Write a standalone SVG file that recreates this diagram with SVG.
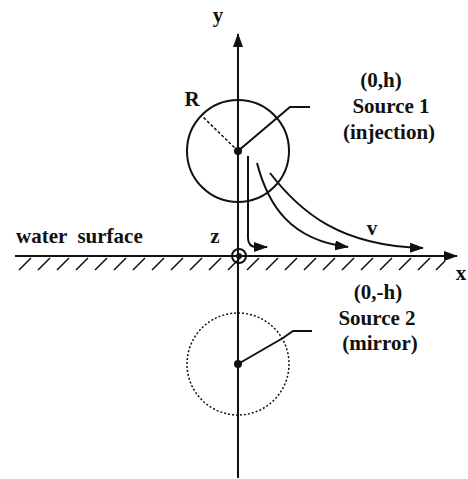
<svg xmlns="http://www.w3.org/2000/svg" width="468" height="479" viewBox="0 0 468 479">
<defs>
<style>
.t{font-family:"Liberation Serif","Times New Roman",serif;font-weight:bold;font-size:21px;fill:#111}
.ln{stroke:#111;stroke-width:2;fill:none}
.thin{stroke:#111;stroke-width:1.5;fill:none}
</style>
<marker id="ah" viewBox="0 0 14 10" refX="13" refY="5" markerWidth="14" markerHeight="10" markerUnits="userSpaceOnUse" orient="auto"><path d="M0,0 L14,5 L0,10 Z" fill="#111"/></marker>
</defs>
<rect width="468" height="479" fill="#fff"/>
<g id="connectors">
<line class="ln" x1="238" y1="478" x2="238" y2="34" marker-end="url(#ah)"/>
<line class="ln" x1="15" y1="256" x2="457" y2="256" marker-end="url(#ah)"/>
<path class="thin" d="M19,270 L31,258 M38,270 L50,258 M57,270 L69,258 M76,270 L88,258 M95,270 L107,258 M114,270 L126,258 M133,270 L145,258 M152,270 L164,258 M171,270 L183,258 M190,270 L202,258 M209,270 L221,258 M228,270 L240,258 M247,270 L259,258 M266,270 L278,258 M285,270 L297,258 M304,270 L316,258 M323,270 L335,258 M342,270 L354,258 M361,270 L373,258 M380,270 L392,258 M399,270 L411,258 M418,270 L430,258 M436,270 L445,261"/>
<path class="ln" d="M248,156 L248,238 Q248,247 257,247 L267,247" marker-end="url(#ah)"/>
<path class="ln" d="M257,163 C268,205 290,240 348,247" marker-end="url(#ah)"/>
<path class="ln" d="M270,173 C300,212 340,246 423,248" marker-end="url(#ah)"/>
</g>
<g id="source1">
<circle class="ln" cx="238" cy="151" r="51"/>
<circle cx="238" cy="151" r="4" fill="#111"/>
<line x1="238" y1="151" x2="202" y2="116" stroke="#111" stroke-width="1.5" stroke-dasharray="3,2"/>
<polyline class="ln" points="238,151 290,107 310,107"/>
<text class="t" x="192" y="106" text-anchor="middle">R</text>
<text class="t" x="381" y="87" text-anchor="middle">(0,h)</text>
<text class="t" x="391" y="113" text-anchor="middle">Source 1</text>
<text class="t" x="389" y="139" text-anchor="middle">(injection)</text>
</g>
<g id="source2">
<circle cx="238" cy="364" r="51" fill="none" stroke="#111" stroke-width="1.5" stroke-dasharray="2,2"/>
<circle cx="238" cy="364" r="4" fill="#111"/>
<polyline class="ln" points="238,364 283,338 293,331 312,331"/>
<text class="t" x="378" y="299" text-anchor="middle">(0,-h)</text>
<text class="t" x="377" y="325" text-anchor="middle">Source 2</text>
<text class="t" x="380" y="350" text-anchor="middle">(mirror)</text>
</g>
<g id="origin">
<circle cx="239" cy="256" r="7" fill="none" stroke="#111" stroke-width="2"/>
<circle cx="239" cy="256" r="3" fill="#111"/>
</g>
<g id="labels">
<text class="t" x="218" y="22" text-anchor="middle">y</text>
<text class="t" x="16" y="243" xml:space="preserve">water  surface</text>
<text class="t" x="215" y="243" text-anchor="middle">z</text>
<text class="t" x="372" y="235" text-anchor="middle">v</text>
<text class="t" x="461" y="280" text-anchor="middle">x</text>
</g>
</svg>
